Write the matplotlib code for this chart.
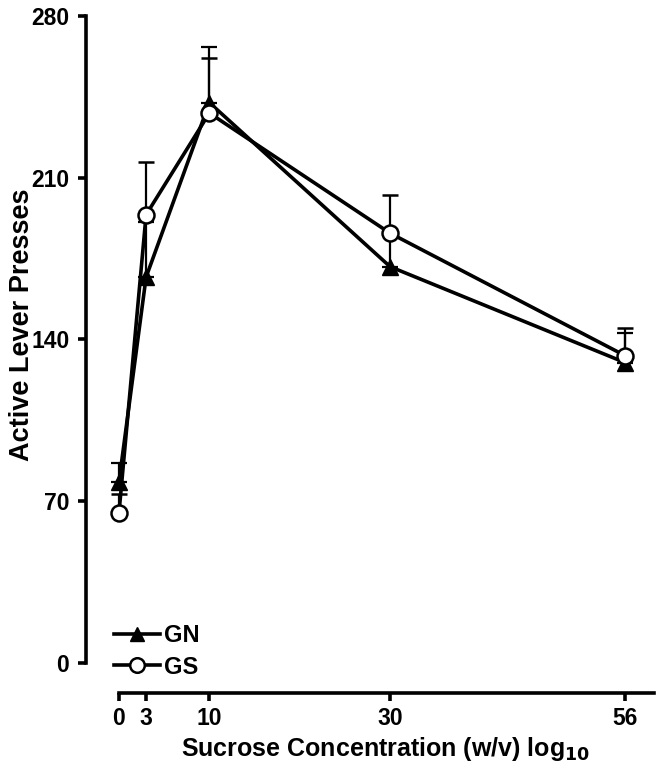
import matplotlib
matplotlib.use("Agg")
import matplotlib.pyplot as plt
from matplotlib.lines import Line2D

plt.rcParams['font.family'] = ['Liberation Sans', 'DejaVu Sans']
plt.rcParams['font.weight'] = 'bold'

conc = [0, 3, 10, 30, 56]
gn_mean = [78.5, 167, 242.5, 171.5, 130]
gn_err = [8, 24, 24, 14, 13]
gs_mean = [65, 194, 238, 186, 133]
gs_err = [8, 23, 24, 16.5, 12]
xticks = [0, 3, 10, 30, 56]
yticks = [0, 70, 140, 210, 280]

fig = plt.figure(figsize=(6.58, 7.78), dpi=100)
ax = fig.add_axes([86/658, 85/778, 568/658, 677/778])

lw = 2.6
ax.errorbar(conc, gn_mean, yerr=[[0]*5, gn_err], color='black', lw=lw,
            marker='^', ms=11, mfc='black', mec='black', capsize=6,
            elinewidth=1.6, capthick=1.6, zorder=3)
ax.errorbar(conc, gs_mean, yerr=[[0]*5, gs_err], color='black', lw=lw,
            marker='o', ms=11.5, mfc='white', mec='black', mew=1.8, capsize=6,
            elinewidth=1.6, capthick=1.6, zorder=4)

ax.set_xlim(-3.65, 59.2)
ax.set_ylim(-13, 280)
for s in ['top', 'right']:
    ax.spines[s].set_visible(False)
ax.spines['left'].set_bounds(0, 280)
ax.spines['bottom'].set_bounds(0, 59.2)
for s in ['left', 'bottom']:
    ax.spines[s].set_linewidth(2.6)
ax.set_xticks(xticks)
ax.set_yticks(yticks)
ax.tick_params(axis='both', width=2.6, length=6, labelsize=16.5)
ax.tick_params(axis='y', pad=6)
ax.tick_params(axis='x', pad=4)
for lab in ax.get_xticklabels() + ax.get_yticklabels():
    lab.set_fontweight('bold')

ax.set_xlabel('Sucrose Concentration (w/v) log$_{\\mathbf{10}}$', fontsize=18,
              fontweight='bold')
ax.xaxis.set_label_coords(0.528, -0.062)
ax.set_ylabel('Active Lever Presses', fontsize=19.5, fontweight='bold')
ax.yaxis.set_label_coords(-0.09, 0.544)

handles = [Line2D([], [], color='black', lw=lw, marker='^', ms=10, mfc='black', mec='black'),
           Line2D([], [], color='black', lw=lw, marker='o', ms=10.5, mfc='white', mec='black', mew=1.8)]
leg = ax.legend(handles, ['GN', 'GS'], loc='lower left', bbox_to_anchor=(0.012, -0.01),
                frameon=False, handlelength=1.95, handletextpad=0.15, labelspacing=0.35,
                prop={'size': 17, 'weight': 'bold'})

fig.savefig('out.png', dpi=100)
